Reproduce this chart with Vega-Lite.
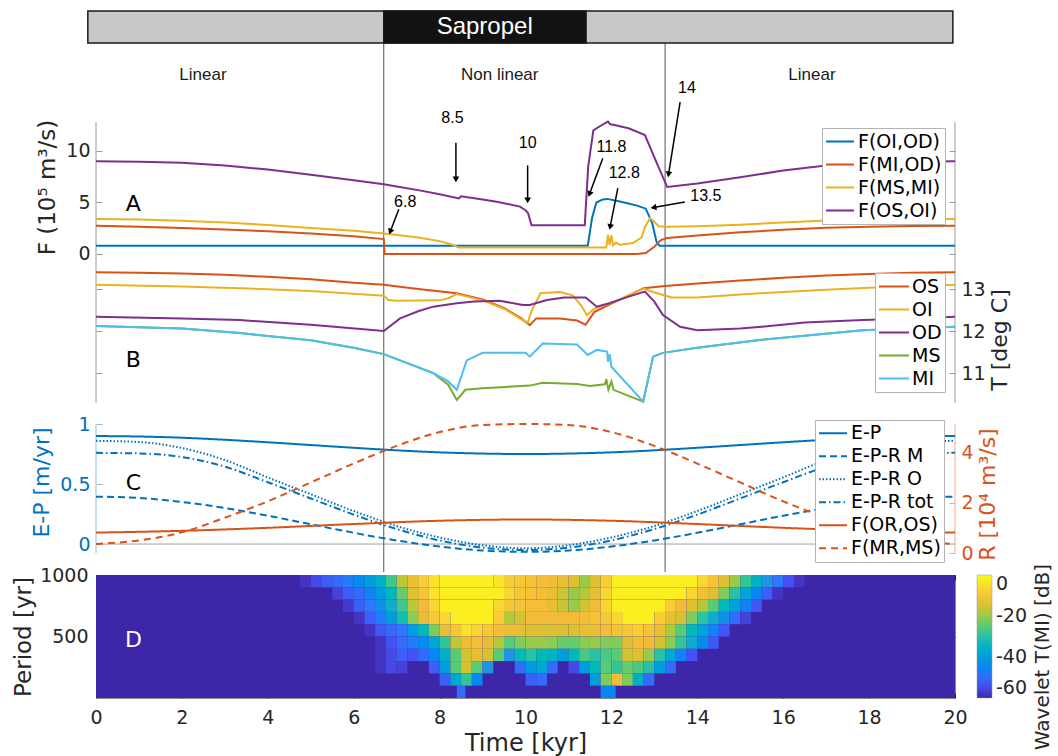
{
"$schema":"https://vega.github.io/schema/vega-lite/v6.json",
"background":"white",
"padding":{"left":12,"top":10,"right":2,"bottom":2},
"spacing":0,
"bounds":"flush",
"config":{
 "view":{"stroke":null},
 "axis":{"grid":false,"labelFlush":false,"labelFont":"DejaVu Sans","titleFont":"DejaVu Sans","labelFontSize":19,"titleFontSize":23,"labelColor":"#262626","titleColor":"#262626","titleFontWeight":"normal","tickColor":"#9a9a9a","domainColor":"#9a9a9a","tickWidth":1},
 "legend":{"labelFont":"DejaVu Sans","titleFont":"DejaVu Sans"}
},
"datasets":{
 "bounds":[{"t":6.7},{"t":13.25}],
 "bar":[{"seg":"all","start":-0.19,"end":19.95},{"seg":"Sapropel","start":6.7,"end":11.41}],
 "regimes":[{"label":"Linear","t":2.49},{"label":"Non linear","t":9.4},{"label":"Linear","t":16.67}],
 "notes":[{"label":"6.8","t":7.2,"v":5.0},{"label":"8.5","t":8.3,"v":13.2},{"label":"10","t":10.05,"v":10.8},{"label":"11.8","t":12.0,"v":10.4},{"label":"12.8","t":12.3,"v":7.9},{"label":"13.5","t":14.2,"v":5.6},{"label":"14","t":13.76,"v":16.1}],
 "arrows":[{"t1":7.05,"v1":4.35,"t2":6.85,"v2":2.17,"ang":201},{"t1":8.38,"v1":10.8,"t2":8.38,"v2":7.25,"ang":180},{"t1":10.05,"v1":8.6,"t2":10.05,"v2":5.2,"ang":180},{"t1":11.8,"v1":9.3,"t2":11.49,"v2":5.82,"ang":200},{"t1":12.15,"v1":6.4,"t2":11.97,"v2":2.63,"ang":191},{"t1":13.71,"v1":5.05,"t2":12.98,"v2":4.51,"ang":260},{"t1":13.6,"v1":14.75,"t2":13.33,"v2":7.74,"ang":189}],
 "fluxA":[
  {"s":"F(OI,OD)","t":0,"v":0.8},{"s":"F(OI,OD)","t":11.45,"v":0.8},{"s":"F(OI,OD)","t":11.55,"v":3.5},{"s":"F(OI,OD)","t":11.65,"v":5.0},{"s":"F(OI,OD)","t":11.8,"v":5.3},{"s":"F(OI,OD)","t":11.9,"v":5.35},{"s":"F(OI,OD)","t":12.2,"v":5.1},{"s":"F(OI,OD)","t":12.6,"v":4.7},{"s":"F(OI,OD)","t":12.8,"v":4.4},{"s":"F(OI,OD)","t":12.95,"v":3.0},{"s":"F(OI,OD)","t":13.05,"v":1.2},{"s":"F(OI,OD)","t":13.12,"v":0.8},{"s":"F(OI,OD)","t":20,"v":0.8},
  {"s":"F(MI,OD)","t":0,"v":2.75},{"s":"F(MI,OD)","t":1,"v":2.65},{"s":"F(MI,OD)","t":2,"v":2.53},{"s":"F(MI,OD)","t":3,"v":2.38},{"s":"F(MI,OD)","t":4,"v":2.2},{"s":"F(MI,OD)","t":5,"v":2.0},{"s":"F(MI,OD)","t":6,"v":1.72},{"s":"F(MI,OD)","t":6.7,"v":1.45},{"s":"F(MI,OD)","t":6.72,"v":0},{"s":"F(MI,OD)","t":12.6,"v":0},{"s":"F(MI,OD)","t":12.8,"v":0.1},{"s":"F(MI,OD)","t":13.0,"v":0.7},{"s":"F(MI,OD)","t":13.15,"v":1.35},{"s":"F(MI,OD)","t":13.3,"v":1.55},{"s":"F(MI,OD)","t":14,"v":1.8},{"s":"F(MI,OD)","t":15,"v":2.1},{"s":"F(MI,OD)","t":16,"v":2.35},{"s":"F(MI,OD)","t":17,"v":2.55},{"s":"F(MI,OD)","t":18,"v":2.65},{"s":"F(MI,OD)","t":19,"v":2.72},{"s":"F(MI,OD)","t":20,"v":2.75},
  {"s":"F(MS,MI)","t":0,"v":3.4},{"s":"F(MS,MI)","t":1,"v":3.35},{"s":"F(MS,MI)","t":2,"v":3.22},{"s":"F(MS,MI)","t":3,"v":3.05},{"s":"F(MS,MI)","t":4,"v":2.82},{"s":"F(MS,MI)","t":5,"v":2.52},{"s":"F(MS,MI)","t":6,"v":2.25},{"s":"F(MS,MI)","t":6.7,"v":2.0},{"s":"F(MS,MI)","t":7.5,"v":1.6},{"s":"F(MS,MI)","t":8.0,"v":1.25},{"s":"F(MS,MI)","t":8.3,"v":0.9},{"s":"F(MS,MI)","t":8.45,"v":0.62},{"s":"F(MS,MI)","t":11.88,"v":0.62},{"s":"F(MS,MI)","t":11.92,"v":1.85},{"s":"F(MS,MI)","t":11.96,"v":0.9},{"s":"F(MS,MI)","t":12.0,"v":1.8},{"s":"F(MS,MI)","t":12.04,"v":0.85},{"s":"F(MS,MI)","t":12.1,"v":1.1},{"s":"F(MS,MI)","t":12.2,"v":0.9},{"s":"F(MS,MI)","t":12.5,"v":1.07},{"s":"F(MS,MI)","t":12.7,"v":1.6},{"s":"F(MS,MI)","t":12.78,"v":2.6},{"s":"F(MS,MI)","t":12.9,"v":3.5},{"s":"F(MS,MI)","t":13.0,"v":3.1},{"s":"F(MS,MI)","t":13.1,"v":2.7},{"s":"F(MS,MI)","t":13.3,"v":2.65},{"s":"F(MS,MI)","t":14,"v":2.7},{"s":"F(MS,MI)","t":15,"v":2.85},{"s":"F(MS,MI)","t":16,"v":3.05},{"s":"F(MS,MI)","t":17,"v":3.25},{"s":"F(MS,MI)","t":18,"v":3.32},{"s":"F(MS,MI)","t":19,"v":3.37},{"s":"F(MS,MI)","t":20,"v":3.4},
  {"s":"F(OS,OI)","t":0,"v":9.0},{"s":"F(OS,OI)","t":1,"v":8.95},{"s":"F(OS,OI)","t":2,"v":8.85},{"s":"F(OS,OI)","t":3,"v":8.6},{"s":"F(OS,OI)","t":4,"v":8.2},{"s":"F(OS,OI)","t":5,"v":7.7},{"s":"F(OS,OI)","t":6,"v":7.15},{"s":"F(OS,OI)","t":6.7,"v":6.77},{"s":"F(OS,OI)","t":7,"v":6.55},{"s":"F(OS,OI)","t":7.5,"v":6.2},{"s":"F(OS,OI)","t":8,"v":5.8},{"s":"F(OS,OI)","t":8.45,"v":5.4},{"s":"F(OS,OI)","t":8.5,"v":5.6},{"s":"F(OS,OI)","t":9,"v":5.3},{"s":"F(OS,OI)","t":9.33,"v":5.08},{"s":"F(OS,OI)","t":9.87,"v":4.6},{"s":"F(OS,OI)","t":10.0,"v":4.25},{"s":"F(OS,OI)","t":10.06,"v":3.97},{"s":"F(OS,OI)","t":10.14,"v":2.8},{"s":"F(OS,OI)","t":11.38,"v":2.8},{"s":"F(OS,OI)","t":11.46,"v":8.5},{"s":"F(OS,OI)","t":11.58,"v":12.0},{"s":"F(OS,OI)","t":11.75,"v":12.45},{"s":"F(OS,OI)","t":11.92,"v":12.85},{"s":"F(OS,OI)","t":11.97,"v":12.6},{"s":"F(OS,OI)","t":12.04,"v":12.55},{"s":"F(OS,OI)","t":12.4,"v":12.2},{"s":"F(OS,OI)","t":12.78,"v":11.55},{"s":"F(OS,OI)","t":13.06,"v":8.8},{"s":"F(OS,OI)","t":13.3,"v":6.5},{"s":"F(OS,OI)","t":14,"v":6.85},{"s":"F(OS,OI)","t":15,"v":7.45},{"s":"F(OS,OI)","t":16,"v":8.1},{"s":"F(OS,OI)","t":17,"v":8.6},{"s":"F(OS,OI)","t":18,"v":8.85},{"s":"F(OS,OI)","t":19,"v":8.95},{"s":"F(OS,OI)","t":20,"v":9.0}
 ],
 "tempB":[
  {"s":"OS","t":0,"v":13.4},{"s":"OS","t":1,"v":13.39},{"s":"OS","t":2,"v":13.37},{"s":"OS","t":3,"v":13.34},{"s":"OS","t":4,"v":13.29},{"s":"OS","t":5,"v":13.23},{"s":"OS","t":6,"v":13.15},{"s":"OS","t":6.7,"v":13.1},{"s":"OS","t":7.5,"v":13.0},{"s":"OS","t":8.4,"v":12.9},{"s":"OS","t":9.0,"v":12.75},{"s":"OS","t":9.5,"v":12.55},{"s":"OS","t":9.9,"v":12.3},{"s":"OS","t":10.1,"v":12.14},{"s":"OS","t":10.25,"v":12.3},{"s":"OS","t":10.8,"v":12.3},{"s":"OS","t":11.2,"v":12.25},{"s":"OS","t":11.4,"v":12.15},{"s":"OS","t":11.6,"v":12.45},{"s":"OS","t":12.0,"v":12.65},{"s":"OS","t":12.4,"v":12.85},{"s":"OS","t":12.75,"v":13.02},{"s":"OS","t":13.25,"v":13.07},{"s":"OS","t":14,"v":13.13},{"s":"OS","t":15,"v":13.2},{"s":"OS","t":16,"v":13.27},{"s":"OS","t":17,"v":13.32},{"s":"OS","t":18,"v":13.36},{"s":"OS","t":19,"v":13.39},{"s":"OS","t":20,"v":13.4},
  {"s":"OI","t":0,"v":13.1},{"s":"OI","t":2,"v":13.06},{"s":"OI","t":3.35,"v":13.02},{"s":"OI","t":5,"v":12.95},{"s":"OI","t":6.7,"v":12.84},{"s":"OI","t":6.8,"v":12.74},{"s":"OI","t":7.0,"v":12.72},{"s":"OI","t":8.0,"v":12.73},{"s":"OI","t":8.2,"v":12.78},{"s":"OI","t":8.4,"v":12.88},{"s":"OI","t":9.0,"v":12.73},{"s":"OI","t":9.5,"v":12.53},{"s":"OI","t":9.9,"v":12.28},{"s":"OI","t":10.05,"v":12.2},{"s":"OI","t":10.15,"v":12.5},{"s":"OI","t":10.35,"v":12.9},{"s":"OI","t":10.8,"v":12.93},{"s":"OI","t":11.1,"v":12.85},{"s":"OI","t":11.3,"v":12.6},{"s":"OI","t":11.43,"v":12.38},{"s":"OI","t":11.6,"v":12.53},{"s":"OI","t":12.0,"v":12.67},{"s":"OI","t":12.4,"v":12.84},{"s":"OI","t":12.75,"v":13.01},{"s":"OI","t":12.97,"v":12.93},{"s":"OI","t":13.4,"v":12.8},{"s":"OI","t":14,"v":12.8},{"s":"OI","t":15,"v":12.87},{"s":"OI","t":16,"v":12.93},{"s":"OI","t":17,"v":12.98},{"s":"OI","t":18,"v":13.03},{"s":"OI","t":19,"v":13.07},{"s":"OI","t":20,"v":13.1},
  {"s":"OD","t":0,"v":12.34},{"s":"OD","t":2,"v":12.3},{"s":"OD","t":3.35,"v":12.26},{"s":"OD","t":5,"v":12.15},{"s":"OD","t":6.7,"v":12.0},{"s":"OD","t":7.08,"v":12.3},{"s":"OD","t":7.5,"v":12.47},{"s":"OD","t":7.85,"v":12.58},{"s":"OD","t":8.4,"v":12.66},{"s":"OD","t":8.8,"v":12.7},{"s":"OD","t":9.4,"v":12.72},{"s":"OD","t":9.94,"v":12.62},{"s":"OD","t":10.1,"v":12.62},{"s":"OD","t":10.5,"v":12.74},{"s":"OD","t":10.9,"v":12.8},{"s":"OD","t":11.4,"v":12.8},{"s":"OD","t":11.66,"v":12.58},{"s":"OD","t":11.95,"v":12.66},{"s":"OD","t":12.4,"v":12.82},{"s":"OD","t":12.78,"v":12.94},{"s":"OD","t":13.0,"v":12.7},{"s":"OD","t":13.2,"v":12.38},{"s":"OD","t":13.6,"v":12.1},{"s":"OD","t":14,"v":12.02},{"s":"OD","t":15,"v":12.06},{"s":"OD","t":15.5,"v":12.1},{"s":"OD","t":16.5,"v":12.2},{"s":"OD","t":17.85,"v":12.26},{"s":"OD","t":19,"v":12.3},{"s":"OD","t":20,"v":12.34},
  {"s":"MS","t":0,"v":12.12},{"s":"MS","t":2,"v":12.06},{"s":"MS","t":3.35,"v":11.95},{"s":"MS","t":4,"v":11.88},{"s":"MS","t":5,"v":11.78},{"s":"MS","t":6,"v":11.6},{"s":"MS","t":6.7,"v":11.45},{"s":"MS","t":7.85,"v":11.0},{"s":"MS","t":8.2,"v":10.72},{"s":"MS","t":8.4,"v":10.36},{"s":"MS","t":8.6,"v":10.6},{"s":"MS","t":9.0,"v":10.64},{"s":"MS","t":10.1,"v":10.7},{"s":"MS","t":10.4,"v":10.77},{"s":"MS","t":11.2,"v":10.74},{"s":"MS","t":11.5,"v":10.69},{"s":"MS","t":11.85,"v":10.73},{"s":"MS","t":11.88,"v":10.86},{"s":"MS","t":11.93,"v":10.6},{"s":"MS","t":12.0,"v":10.8},{"s":"MS","t":12.05,"v":10.6},{"s":"MS","t":12.74,"v":10.32},{"s":"MS","t":12.97,"v":11.39},{"s":"MS","t":13.2,"v":11.48},{"s":"MS","t":14,"v":11.6},{"s":"MS","t":15.5,"v":11.79},{"s":"MS","t":17.85,"v":12.02},{"s":"MS","t":20,"v":12.1},
  {"s":"MI","t":0,"v":12.12},{"s":"MI","t":2,"v":12.06},{"s":"MI","t":3.35,"v":11.95},{"s":"MI","t":4,"v":11.88},{"s":"MI","t":5,"v":11.78},{"s":"MI","t":6,"v":11.6},{"s":"MI","t":6.7,"v":11.45},{"s":"MI","t":7.85,"v":11.0},{"s":"MI","t":8.2,"v":10.8},{"s":"MI","t":8.4,"v":10.6},{"s":"MI","t":8.5,"v":10.9},{"s":"MI","t":8.63,"v":11.3},{"s":"MI","t":9.0,"v":11.48},{"s":"MI","t":10.0,"v":11.48},{"s":"MI","t":10.1,"v":11.39},{"s":"MI","t":10.4,"v":11.7},{"s":"MI","t":11.2,"v":11.68},{"s":"MI","t":11.45,"v":11.43},{"s":"MI","t":11.66,"v":11.55},{"s":"MI","t":11.9,"v":11.51},{"s":"MI","t":11.92,"v":11.27},{"s":"MI","t":11.96,"v":11.45},{"s":"MI","t":12.0,"v":11.15},{"s":"MI","t":12.74,"v":10.32},{"s":"MI","t":12.97,"v":11.39},{"s":"MI","t":13.2,"v":11.48},{"s":"MI","t":14,"v":11.6},{"s":"MI","t":15.5,"v":11.79},{"s":"MI","t":17.85,"v":12.02},{"s":"MI","t":20,"v":12.1}
 ],
 "epC":[
  {"s":"E-P","t":0,"v":0.9},{"s":"E-P","t":1,"v":0.896},{"s":"E-P","t":2,"v":0.886},{"s":"E-P","t":3,"v":0.869},{"s":"E-P","t":4,"v":0.848},{"s":"E-P","t":5,"v":0.825},{"s":"E-P","t":6,"v":0.802},{"s":"E-P","t":7,"v":0.781},{"s":"E-P","t":8,"v":0.764},{"s":"E-P","t":9,"v":0.754},{"s":"E-P","t":10,"v":0.75},{"s":"E-P","t":11,"v":0.754},{"s":"E-P","t":12,"v":0.764},{"s":"E-P","t":13,"v":0.781},{"s":"E-P","t":14,"v":0.802},{"s":"E-P","t":15,"v":0.825},{"s":"E-P","t":16,"v":0.848},{"s":"E-P","t":17,"v":0.869},{"s":"E-P","t":18,"v":0.886},{"s":"E-P","t":19,"v":0.896},{"s":"E-P","t":20,"v":0.9},
  {"s":"E-P-R M","t":0,"v":0.395},{"s":"E-P-R M","t":1,"v":0.384},{"s":"E-P-R M","t":2,"v":0.351},{"s":"E-P-R M","t":3,"v":0.3},{"s":"E-P-R M","t":4,"v":0.236},{"s":"E-P-R M","t":5,"v":0.165},{"s":"E-P-R M","t":6,"v":0.094},{"s":"E-P-R M","t":7,"v":0.03},{"s":"E-P-R M","t":8,"v":-0.021},{"s":"E-P-R M","t":9,"v":-0.054},{"s":"E-P-R M","t":10,"v":-0.065},{"s":"E-P-R M","t":11,"v":-0.054},{"s":"E-P-R M","t":12,"v":-0.021},{"s":"E-P-R M","t":13,"v":0.03},{"s":"E-P-R M","t":14,"v":0.094},{"s":"E-P-R M","t":15,"v":0.165},{"s":"E-P-R M","t":16,"v":0.236},{"s":"E-P-R M","t":17,"v":0.3},{"s":"E-P-R M","t":18,"v":0.351},{"s":"E-P-R M","t":19,"v":0.384},{"s":"E-P-R M","t":20,"v":0.395},
  {"s":"E-P-R O","t":0,"v":0.86},{"s":"E-P-R O","t":1,"v":0.85},{"s":"E-P-R O","t":2,"v":0.8},{"s":"E-P-R O","t":3,"v":0.7},{"s":"E-P-R O","t":4,"v":0.555},{"s":"E-P-R O","t":5,"v":0.415},{"s":"E-P-R O","t":6,"v":0.275},{"s":"E-P-R O","t":7,"v":0.15},{"s":"E-P-R O","t":8,"v":0.055},{"s":"E-P-R O","t":9,"v":-0.01},{"s":"E-P-R O","t":10,"v":-0.035},{"s":"E-P-R O","t":11,"v":-0.01},{"s":"E-P-R O","t":12,"v":0.055},{"s":"E-P-R O","t":13,"v":0.15},{"s":"E-P-R O","t":14,"v":0.275},{"s":"E-P-R O","t":15,"v":0.415},{"s":"E-P-R O","t":16,"v":0.555},{"s":"E-P-R O","t":17,"v":0.7},{"s":"E-P-R O","t":18,"v":0.8},{"s":"E-P-R O","t":19,"v":0.85},{"s":"E-P-R O","t":20,"v":0.86},
  {"s":"E-P-R tot","t":0,"v":0.76},{"s":"E-P-R tot","t":1,"v":0.755},{"s":"E-P-R tot","t":2,"v":0.725},{"s":"E-P-R tot","t":3,"v":0.645},{"s":"E-P-R tot","t":4,"v":0.515},{"s":"E-P-R tot","t":5,"v":0.38},{"s":"E-P-R tot","t":6,"v":0.245},{"s":"E-P-R tot","t":7,"v":0.125},{"s":"E-P-R tot","t":8,"v":0.03},{"s":"E-P-R tot","t":9,"v":-0.03},{"s":"E-P-R tot","t":10,"v":-0.05},{"s":"E-P-R tot","t":11,"v":-0.03},{"s":"E-P-R tot","t":12,"v":0.03},{"s":"E-P-R tot","t":13,"v":0.125},{"s":"E-P-R tot","t":14,"v":0.245},{"s":"E-P-R tot","t":15,"v":0.38},{"s":"E-P-R tot","t":16,"v":0.515},{"s":"E-P-R tot","t":17,"v":0.645},{"s":"E-P-R tot","t":18,"v":0.725},{"s":"E-P-R tot","t":19,"v":0.755},{"s":"E-P-R tot","t":20,"v":0.76}
 ],
 "rC":[
  {"s":"F(OR,OS)","t":0,"v":0.81},{"s":"F(OR,OS)","t":2,"v":0.88},{"s":"F(OR,OS)","t":4,"v":1.0},{"s":"F(OR,OS)","t":6,"v":1.15},{"s":"F(OR,OS)","t":8,"v":1.28},{"s":"F(OR,OS)","t":10,"v":1.33},{"s":"F(OR,OS)","t":12,"v":1.28},{"s":"F(OR,OS)","t":14,"v":1.15},{"s":"F(OR,OS)","t":16,"v":1.0},{"s":"F(OR,OS)","t":18,"v":0.88},{"s":"F(OR,OS)","t":20,"v":0.81},
  {"s":"F(MR,MS)","t":0,"v":0.36},{"s":"F(MR,MS)","t":1,"v":0.5},{"s":"F(MR,MS)","t":2,"v":0.82},{"s":"F(MR,MS)","t":3,"v":1.4},{"s":"F(MR,MS)","t":4,"v":2.05},{"s":"F(MR,MS)","t":5,"v":2.8},{"s":"F(MR,MS)","t":6,"v":3.55},{"s":"F(MR,MS)","t":7,"v":4.25},{"s":"F(MR,MS)","t":8,"v":4.8},{"s":"F(MR,MS)","t":9,"v":5.08},{"s":"F(MR,MS)","t":10,"v":5.12},{"s":"F(MR,MS)","t":11,"v":5.08},{"s":"F(MR,MS)","t":12,"v":4.8},{"s":"F(MR,MS)","t":13,"v":4.25},{"s":"F(MR,MS)","t":14,"v":3.55},{"s":"F(MR,MS)","t":15,"v":2.8},{"s":"F(MR,MS)","t":16,"v":2.05},{"s":"F(MR,MS)","t":17,"v":1.4},{"s":"F(MR,MS)","t":18,"v":0.82},{"s":"F(MR,MS)","t":19,"v":0.5},{"s":"F(MR,MS)","t":20,"v":0.36}
 ],
 "wave":[
  {"t0":4.75,"t1":5,"p0":900,"p1":1000,"dB":-58},{"t0":5,"t1":5.25,"p0":900,"p1":1000,"dB":-55},{"t0":5.25,"t1":5.5,"p0":900,"p1":1000,"dB":-52},{"t0":5.5,"t1":5.75,"p0":900,"p1":1000,"dB":-50},{"t0":5.75,"t1":6,"p0":900,"p1":1000,"dB":-47},{"t0":6,"t1":6.25,"p0":900,"p1":1000,"dB":-44},{"t0":6.25,"t1":6.5,"p0":900,"p1":1000,"dB":-40},{"t0":6.5,"t1":6.75,"p0":900,"p1":1000,"dB":-35},{"t0":6.75,"t1":7,"p0":900,"p1":1000,"dB":-27},{"t0":7,"t1":7.25,"p0":900,"p1":1000,"dB":-17},{"t0":7.25,"t1":7.5,"p0":900,"p1":1000,"dB":-13},{"t0":7.5,"t1":7.75,"p0":900,"p1":1000,"dB":-8},{"t0":7.75,"t1":8,"p0":900,"p1":1000,"dB":-4},{"t0":8,"t1":9.25,"p0":900,"p1":1000,"dB":-2},{"t0":9.25,"t1":9.5,"p0":900,"p1":1000,"dB":-4},{"t0":9.5,"t1":9.75,"p0":900,"p1":1000,"dB":-8},{"t0":9.75,"t1":10,"p0":900,"p1":1000,"dB":-9},{"t0":10,"t1":10.25,"p0":900,"p1":1000,"dB":-10},{"t0":10.25,"t1":10.5,"p0":900,"p1":1000,"dB":-11},{"t0":10.5,"t1":10.75,"p0":900,"p1":1000,"dB":-12},{"t0":10.75,"t1":11,"p0":900,"p1":1000,"dB":-13},{"t0":11,"t1":11.25,"p0":900,"p1":1000,"dB":-14},{"t0":11.25,"t1":11.5,"p0":900,"p1":1000,"dB":-20},{"t0":11.5,"t1":11.75,"p0":900,"p1":1000,"dB":-14},{"t0":11.75,"t1":12,"p0":900,"p1":1000,"dB":-8},{"t0":12,"t1":14,"p0":900,"p1":1000,"dB":-2},{"t0":14,"t1":14.25,"p0":900,"p1":1000,"dB":-6},{"t0":14.25,"t1":14.5,"p0":900,"p1":1000,"dB":-10},{"t0":14.5,"t1":14.75,"p0":900,"p1":1000,"dB":-14},{"t0":14.75,"t1":15,"p0":900,"p1":1000,"dB":-20},{"t0":15,"t1":15.25,"p0":900,"p1":1000,"dB":-28},{"t0":15.25,"t1":15.5,"p0":900,"p1":1000,"dB":-35},{"t0":15.5,"t1":15.75,"p0":900,"p1":1000,"dB":-42},{"t0":15.75,"t1":16,"p0":900,"p1":1000,"dB":-48},{"t0":16,"t1":16.25,"p0":900,"p1":1000,"dB":-54},{"t0":16.25,"t1":16.5,"p0":900,"p1":1000,"dB":-58},
  {"t0":5.5,"t1":5.75,"p0":800,"p1":900,"dB":-56},{"t0":5.75,"t1":6,"p0":800,"p1":900,"dB":-52},{"t0":6,"t1":6.25,"p0":800,"p1":900,"dB":-50},{"t0":6.25,"t1":6.5,"p0":800,"p1":900,"dB":-46},{"t0":6.5,"t1":6.75,"p0":800,"p1":900,"dB":-40},{"t0":6.75,"t1":7,"p0":800,"p1":900,"dB":-33},{"t0":7,"t1":7.25,"p0":800,"p1":900,"dB":-24},{"t0":7.25,"t1":7.5,"p0":800,"p1":900,"dB":-14},{"t0":7.5,"t1":7.75,"p0":800,"p1":900,"dB":-10},{"t0":7.75,"t1":8,"p0":800,"p1":900,"dB":-4},{"t0":8,"t1":9.5,"p0":800,"p1":900,"dB":-2},{"t0":9.5,"t1":9.75,"p0":800,"p1":900,"dB":-6},{"t0":9.75,"t1":10,"p0":800,"p1":900,"dB":-9},{"t0":10,"t1":10.25,"p0":800,"p1":900,"dB":-10},{"t0":10.25,"t1":10.5,"p0":800,"p1":900,"dB":-11},{"t0":10.5,"t1":10.75,"p0":800,"p1":900,"dB":-13},{"t0":10.75,"t1":11,"p0":800,"p1":900,"dB":-16},{"t0":11,"t1":11.25,"p0":800,"p1":900,"dB":-20},{"t0":11.25,"t1":11.5,"p0":800,"p1":900,"dB":-18},{"t0":11.5,"t1":11.75,"p0":800,"p1":900,"dB":-13},{"t0":11.75,"t1":12,"p0":800,"p1":900,"dB":-6},{"t0":12,"t1":13.75,"p0":800,"p1":900,"dB":-2},{"t0":13.75,"t1":14,"p0":800,"p1":900,"dB":-6},{"t0":14,"t1":14.25,"p0":800,"p1":900,"dB":-11},{"t0":14.25,"t1":14.5,"p0":800,"p1":900,"dB":-14},{"t0":14.5,"t1":14.75,"p0":800,"p1":900,"dB":-22},{"t0":14.75,"t1":15,"p0":800,"p1":900,"dB":-30},{"t0":15,"t1":15.25,"p0":800,"p1":900,"dB":-38},{"t0":15.25,"t1":15.5,"p0":800,"p1":900,"dB":-45},{"t0":15.5,"t1":15.75,"p0":800,"p1":900,"dB":-52},{"t0":15.75,"t1":16,"p0":800,"p1":900,"dB":-58},
  {"t0":5.75,"t1":6,"p0":700,"p1":800,"dB":-57},{"t0":6,"t1":6.25,"p0":700,"p1":800,"dB":-52},{"t0":6.25,"t1":6.5,"p0":700,"p1":800,"dB":-48},{"t0":6.5,"t1":6.75,"p0":700,"p1":800,"dB":-43},{"t0":6.75,"t1":7,"p0":700,"p1":800,"dB":-36},{"t0":7,"t1":7.25,"p0":700,"p1":800,"dB":-27},{"t0":7.25,"t1":7.5,"p0":700,"p1":800,"dB":-17},{"t0":7.5,"t1":7.75,"p0":700,"p1":800,"dB":-12},{"t0":7.75,"t1":8,"p0":700,"p1":800,"dB":-6},{"t0":8,"t1":9.25,"p0":700,"p1":800,"dB":-2},{"t0":9.25,"t1":9.5,"p0":700,"p1":800,"dB":-6},{"t0":9.5,"t1":9.75,"p0":700,"p1":800,"dB":-9},{"t0":9.75,"t1":10,"p0":700,"p1":800,"dB":-10},{"t0":10,"t1":10.5,"p0":700,"p1":800,"dB":-11},{"t0":10.5,"t1":10.75,"p0":700,"p1":800,"dB":-13},{"t0":10.75,"t1":11,"p0":700,"p1":800,"dB":-16},{"t0":11,"t1":11.25,"p0":700,"p1":800,"dB":-20},{"t0":11.25,"t1":11.5,"p0":700,"p1":800,"dB":-15},{"t0":11.5,"t1":11.75,"p0":700,"p1":800,"dB":-12},{"t0":11.75,"t1":12,"p0":700,"p1":800,"dB":-6},{"t0":12,"t1":13.25,"p0":700,"p1":800,"dB":-2},{"t0":13.25,"t1":13.5,"p0":700,"p1":800,"dB":-8},{"t0":13.5,"t1":13.75,"p0":700,"p1":800,"dB":-12},{"t0":13.75,"t1":14,"p0":700,"p1":800,"dB":-14},{"t0":14,"t1":14.25,"p0":700,"p1":800,"dB":-18},{"t0":14.25,"t1":14.5,"p0":700,"p1":800,"dB":-25},{"t0":14.5,"t1":14.75,"p0":700,"p1":800,"dB":-32},{"t0":14.75,"t1":15,"p0":700,"p1":800,"dB":-39},{"t0":15,"t1":15.25,"p0":700,"p1":800,"dB":-46},{"t0":15.25,"t1":15.5,"p0":700,"p1":800,"dB":-53},
  {"t0":6,"t1":6.25,"p0":600,"p1":700,"dB":-58},{"t0":6.25,"t1":6.5,"p0":600,"p1":700,"dB":-52},{"t0":6.5,"t1":6.75,"p0":600,"p1":700,"dB":-47},{"t0":6.75,"t1":7,"p0":600,"p1":700,"dB":-40},{"t0":7,"t1":7.25,"p0":600,"p1":700,"dB":-31},{"t0":7.25,"t1":7.5,"p0":600,"p1":700,"dB":-21},{"t0":7.5,"t1":7.75,"p0":600,"p1":700,"dB":-13},{"t0":7.75,"t1":8,"p0":600,"p1":700,"dB":-9},{"t0":8,"t1":8.25,"p0":600,"p1":700,"dB":-6},{"t0":8.25,"t1":9.25,"p0":600,"p1":700,"dB":-2},{"t0":9.25,"t1":9.5,"p0":600,"p1":700,"dB":-8},{"t0":9.5,"t1":9.75,"p0":600,"p1":700,"dB":-18},{"t0":9.75,"t1":10,"p0":600,"p1":700,"dB":-15},{"t0":10,"t1":11.25,"p0":600,"p1":700,"dB":-12},{"t0":11.25,"t1":11.5,"p0":600,"p1":700,"dB":-11},{"t0":11.5,"t1":11.75,"p0":600,"p1":700,"dB":-10},{"t0":11.75,"t1":12,"p0":600,"p1":700,"dB":-9},{"t0":12,"t1":12.25,"p0":600,"p1":700,"dB":-6},{"t0":12.25,"t1":13,"p0":600,"p1":700,"dB":-2},{"t0":13,"t1":13.25,"p0":600,"p1":700,"dB":-8},{"t0":13.25,"t1":13.5,"p0":600,"p1":700,"dB":-13},{"t0":13.5,"t1":13.75,"p0":600,"p1":700,"dB":-15},{"t0":13.75,"t1":14,"p0":600,"p1":700,"dB":-22},{"t0":14,"t1":14.25,"p0":600,"p1":700,"dB":-29},{"t0":14.25,"t1":14.5,"p0":600,"p1":700,"dB":-36},{"t0":14.5,"t1":14.75,"p0":600,"p1":700,"dB":-43},{"t0":14.75,"t1":15,"p0":600,"p1":700,"dB":-50},{"t0":15,"t1":15.25,"p0":600,"p1":700,"dB":-56},
  {"t0":6.25,"t1":6.5,"p0":500,"p1":600,"dB":-58},{"t0":6.5,"t1":6.75,"p0":500,"p1":600,"dB":-53},{"t0":6.75,"t1":7,"p0":500,"p1":600,"dB":-50},{"t0":7,"t1":7.25,"p0":500,"p1":600,"dB":-48},{"t0":7.25,"t1":7.5,"p0":500,"p1":600,"dB":-40},{"t0":7.5,"t1":7.75,"p0":500,"p1":600,"dB":-32},{"t0":7.75,"t1":8,"p0":500,"p1":600,"dB":-22},{"t0":8,"t1":8.25,"p0":500,"p1":600,"dB":-13},{"t0":8.25,"t1":8.5,"p0":500,"p1":600,"dB":-9},{"t0":8.5,"t1":8.75,"p0":500,"p1":600,"dB":-4},{"t0":8.75,"t1":9,"p0":500,"p1":600,"dB":-6},{"t0":9,"t1":9.25,"p0":500,"p1":600,"dB":-9},{"t0":9.25,"t1":9.5,"p0":500,"p1":600,"dB":-11},{"t0":9.5,"t1":10,"p0":500,"p1":600,"dB":-13},{"t0":10,"t1":11,"p0":500,"p1":600,"dB":-14},{"t0":11,"t1":11.25,"p0":500,"p1":600,"dB":-14},{"t0":11.25,"t1":11.75,"p0":500,"p1":600,"dB":-13},{"t0":11.75,"t1":12,"p0":500,"p1":600,"dB":-11},{"t0":12,"t1":12.25,"p0":500,"p1":600,"dB":-10},{"t0":12.25,"t1":12.5,"p0":500,"p1":600,"dB":-9},{"t0":12.5,"t1":12.75,"p0":500,"p1":600,"dB":-8},{"t0":12.75,"t1":13,"p0":500,"p1":600,"dB":-10},{"t0":13,"t1":13.25,"p0":500,"p1":600,"dB":-13},{"t0":13.25,"t1":13.5,"p0":500,"p1":600,"dB":-18},{"t0":13.5,"t1":13.75,"p0":500,"p1":600,"dB":-25},{"t0":13.75,"t1":14,"p0":500,"p1":600,"dB":-32},{"t0":14,"t1":14.25,"p0":500,"p1":600,"dB":-39},{"t0":14.25,"t1":14.5,"p0":500,"p1":600,"dB":-46},{"t0":14.5,"t1":14.75,"p0":500,"p1":600,"dB":-53},
  {"t0":6.5,"t1":6.75,"p0":400,"p1":500,"dB":-58},{"t0":6.75,"t1":7,"p0":400,"p1":500,"dB":-54},{"t0":7,"t1":7.25,"p0":400,"p1":500,"dB":-50},{"t0":7.25,"t1":7.5,"p0":400,"p1":500,"dB":-47},{"t0":7.5,"t1":7.75,"p0":400,"p1":500,"dB":-44},{"t0":7.75,"t1":8,"p0":400,"p1":500,"dB":-38},{"t0":8,"t1":8.25,"p0":400,"p1":500,"dB":-28},{"t0":8.25,"t1":8.5,"p0":400,"p1":500,"dB":-17},{"t0":8.5,"t1":8.75,"p0":400,"p1":500,"dB":-12},{"t0":8.75,"t1":9,"p0":400,"p1":500,"dB":-11},{"t0":9,"t1":9.25,"p0":400,"p1":500,"dB":-13},{"t0":9.25,"t1":9.5,"p0":400,"p1":500,"dB":-18},{"t0":9.5,"t1":9.75,"p0":400,"p1":500,"dB":-25},{"t0":9.75,"t1":10,"p0":400,"p1":500,"dB":-22},{"t0":10,"t1":10.5,"p0":400,"p1":500,"dB":-20},{"t0":10.5,"t1":10.75,"p0":400,"p1":500,"dB":-21},{"t0":10.75,"t1":11.25,"p0":400,"p1":500,"dB":-24},{"t0":11.25,"t1":11.5,"p0":400,"p1":500,"dB":-21},{"t0":11.5,"t1":11.75,"p0":400,"p1":500,"dB":-20},{"t0":11.75,"t1":12.25,"p0":400,"p1":500,"dB":-22},{"t0":12.25,"t1":12.5,"p0":400,"p1":500,"dB":-14},{"t0":12.5,"t1":12.75,"p0":400,"p1":500,"dB":-11},{"t0":12.75,"t1":13,"p0":400,"p1":500,"dB":-12},{"t0":13,"t1":13.25,"p0":400,"p1":500,"dB":-15},{"t0":13.25,"t1":13.5,"p0":400,"p1":500,"dB":-21},{"t0":13.5,"t1":13.75,"p0":400,"p1":500,"dB":-28},{"t0":13.75,"t1":14,"p0":400,"p1":500,"dB":-36},{"t0":14,"t1":14.25,"p0":400,"p1":500,"dB":-44},{"t0":14.25,"t1":14.5,"p0":400,"p1":500,"dB":-53},
  {"t0":6.5,"t1":6.75,"p0":300,"p1":400,"dB":-58},{"t0":6.75,"t1":7,"p0":300,"p1":400,"dB":-55},{"t0":7,"t1":7.25,"p0":300,"p1":400,"dB":-52},{"t0":7.25,"t1":7.5,"p0":300,"p1":400,"dB":-54},{"t0":7.5,"t1":7.75,"p0":300,"p1":400,"dB":-50},{"t0":7.75,"t1":8,"p0":300,"p1":400,"dB":-45},{"t0":8,"t1":8.25,"p0":300,"p1":400,"dB":-35},{"t0":8.25,"t1":8.5,"p0":300,"p1":400,"dB":-25},{"t0":8.5,"t1":8.75,"p0":300,"p1":400,"dB":-15},{"t0":8.75,"t1":9,"p0":300,"p1":400,"dB":-13},{"t0":9,"t1":9.25,"p0":300,"p1":400,"dB":-15},{"t0":9.25,"t1":9.5,"p0":300,"p1":400,"dB":-25},{"t0":9.5,"t1":9.75,"p0":300,"p1":400,"dB":-42},{"t0":9.75,"t1":10,"p0":300,"p1":400,"dB":-32},{"t0":10,"t1":10.25,"p0":300,"p1":400,"dB":-30},{"t0":10.25,"t1":10.5,"p0":300,"p1":400,"dB":-32},{"t0":10.5,"t1":10.75,"p0":300,"p1":400,"dB":-34},{"t0":10.75,"t1":11,"p0":300,"p1":400,"dB":-40},{"t0":11,"t1":11.25,"p0":300,"p1":400,"dB":-32},{"t0":11.25,"t1":11.5,"p0":300,"p1":400,"dB":-26},{"t0":11.5,"t1":11.75,"p0":300,"p1":400,"dB":-30},{"t0":11.75,"t1":12,"p0":300,"p1":400,"dB":-26},{"t0":12,"t1":12.25,"p0":300,"p1":400,"dB":-25},{"t0":12.25,"t1":12.5,"p0":300,"p1":400,"dB":-15},{"t0":12.5,"t1":12.75,"p0":300,"p1":400,"dB":-14},{"t0":12.75,"t1":13,"p0":300,"p1":400,"dB":-20},{"t0":13,"t1":13.25,"p0":300,"p1":400,"dB":-30},{"t0":13.25,"t1":13.5,"p0":300,"p1":400,"dB":-38},{"t0":13.5,"t1":13.75,"p0":300,"p1":400,"dB":-46},{"t0":13.75,"t1":14,"p0":300,"p1":400,"dB":-54},
  {"t0":6.5,"t1":6.75,"p0":200,"p1":300,"dB":-58},{"t0":6.75,"t1":7,"p0":200,"p1":300,"dB":-55},{"t0":7,"t1":7.25,"p0":200,"p1":300,"dB":-56},{"t0":7.75,"t1":8,"p0":200,"p1":300,"dB":-52},{"t0":8,"t1":8.25,"p0":200,"p1":300,"dB":-40},{"t0":8.25,"t1":8.5,"p0":200,"p1":300,"dB":-25},{"t0":8.5,"t1":8.75,"p0":200,"p1":300,"dB":-15},{"t0":8.75,"t1":9,"p0":200,"p1":300,"dB":-25},{"t0":9,"t1":9.25,"p0":200,"p1":300,"dB":-42},{"t0":9.75,"t1":10,"p0":200,"p1":300,"dB":-50},{"t0":10,"t1":10.25,"p0":200,"p1":300,"dB":-40},{"t0":10.25,"t1":10.5,"p0":200,"p1":300,"dB":-38},{"t0":10.5,"t1":10.75,"p0":200,"p1":300,"dB":-50},{"t0":11,"t1":11.25,"p0":200,"p1":300,"dB":-55},{"t0":11.25,"t1":11.5,"p0":200,"p1":300,"dB":-40},{"t0":11.5,"t1":11.75,"p0":200,"p1":300,"dB":-32},{"t0":11.75,"t1":12,"p0":200,"p1":300,"dB":-25},{"t0":12,"t1":12.25,"p0":200,"p1":300,"dB":-28},{"t0":12.25,"t1":12.5,"p0":200,"p1":300,"dB":-24},{"t0":12.5,"t1":12.75,"p0":200,"p1":300,"dB":-26},{"t0":12.75,"t1":13,"p0":200,"p1":300,"dB":-30},{"t0":13,"t1":13.25,"p0":200,"p1":300,"dB":-40},{"t0":13.25,"t1":13.5,"p0":200,"p1":300,"dB":-50},
  {"t0":8,"t1":8.25,"p0":100,"p1":200,"dB":-52},{"t0":8.25,"t1":8.5,"p0":100,"p1":200,"dB":-38},{"t0":8.5,"t1":8.75,"p0":100,"p1":200,"dB":-28},{"t0":8.75,"t1":9,"p0":100,"p1":200,"dB":-45},{"t0":10,"t1":10.25,"p0":100,"p1":200,"dB":-52},{"t0":10.25,"t1":10.5,"p0":100,"p1":200,"dB":-50},{"t0":11.5,"t1":11.75,"p0":100,"p1":200,"dB":-40},{"t0":11.75,"t1":12,"p0":100,"p1":200,"dB":-22},{"t0":12,"t1":12.25,"p0":100,"p1":200,"dB":-12},{"t0":12.25,"t1":12.5,"p0":100,"p1":200,"dB":-22},{"t0":12.5,"t1":12.75,"p0":100,"p1":200,"dB":-35},{"t0":12.75,"t1":13,"p0":100,"p1":200,"dB":-50},
  {"t0":8.4,"t1":8.6,"p0":0,"p1":100,"dB":-50},{"t0":11.75,"t1":12.1,"p0":0,"p1":100,"dB":-45}
 ]
},
"resolve":{"scale":{"color":"independent","strokeDash":"independent","fill":"independent"},"legend":{"color":"independent","strokeDash":"independent","fill":"independent"}},
"vconcat":[
 {
  "width":859,"height":255,
  "resolve":{"axis":{"y":"independent"}},
  "layer":[
   {"data":{"values":[{"t":0},{"t":20}]},
    "mark":{"type":"rule","color":"#9a9a9a","strokeWidth":1},
    "encoding":{
     "x":{"field":"t","type":"quantitative","scale":{"domain":[0,20],"nice":false,"zero":false},"axis":null},
     "y":{"datum":12.8,"type":"quantitative","scale":{"domain":[-1.165,23.59],"nice":false,"zero":false},"axis":{"orient":"left","values":[0,5,10],"format":"d","title":"F (10⁵ m³/s)","titleY":176,"titlePadding":6,"domain":false,"tickSize":-6,"labelPadding":12}},
     "y2":{"datum":-1.165}}},
   {"data":{"name":"bounds"},
    "mark":{"type":"rule","color":"#555555","strokeWidth":1},
    "encoding":{
     "x":{"field":"t","type":"quantitative","scale":{"domain":[0,20],"nice":false,"zero":false},"axis":null},
     "y":{"datum":20.49,"type":"quantitative","scale":{"domain":[-1.165,23.59],"nice":false,"zero":false},"axis":{"orient":"right","values":[0,5,10],"labels":false,"title":null,"domain":false,"tickSize":-6}},
     "y2":{"datum":-1.165}}},
   {"data":{"name":"bar"},
    "mark":{"type":"rect","stroke":"#1a1a1a","strokeWidth":1.5},
    "encoding":{
     "x":{"field":"start","type":"quantitative","scale":{"domain":[0,20],"nice":false,"zero":false},"axis":null},
     "x2":{"field":"end"},
     "y":{"datum":20.49,"type":"quantitative","scale":{"domain":[-1.165,23.59],"nice":false,"zero":false},"axis":null},
     "y2":{"datum":23.59},
     "fill":{"field":"seg","type":"nominal","scale":{"domain":["all","Sapropel"],"range":["#c8c8c8","#121212"]},"legend":null}}},
   {"data":{"values":[{"label":"Sapropel","t":9.05}]},
    "mark":{"type":"text","font":"Liberation Sans","fontSize":24,"color":"white","align":"center","baseline":"middle"},
    "encoding":{
     "x":{"field":"t","type":"quantitative","scale":{"domain":[0,20],"nice":false,"zero":false},"axis":null},
     "y":{"datum":22.04,"type":"quantitative","scale":{"domain":[-1.165,23.59],"nice":false,"zero":false},"axis":null},
     "text":{"field":"label"}}},
   {"data":{"name":"regimes"},
    "mark":{"type":"text","font":"Liberation Sans","fontSize":17,"color":"#1a1a1a","align":"center","baseline":"middle"},
    "encoding":{
     "x":{"field":"t","type":"quantitative","scale":{"domain":[0,20],"nice":false,"zero":false},"axis":null},
     "y":{"datum":17.38,"type":"quantitative","scale":{"domain":[-1.165,23.59],"nice":false,"zero":false},"axis":null},
     "text":{"field":"label"}}},
   {"data":{"name":"fluxA"},
    "mark":{"type":"line","strokeWidth":2},
    "encoding":{
     "x":{"field":"t","type":"quantitative","scale":{"domain":[0,20],"nice":false,"zero":false},"axis":null},
     "y":{"field":"v","type":"quantitative","scale":{"domain":[-1.165,23.59],"nice":false,"zero":false},"axis":null},
     "color":{"field":"s","type":"nominal","scale":{"domain":["F(OI,OD)","F(MI,OD)","F(MS,MI)","F(OS,OI)"],"range":["#0072BD","#D95319","#EDB120","#7E2F8E"]},
      "legend":{"orient":"none","legendX":726,"legendY":117,"direction":"vertical","title":null,"symbolType":"stroke","symbolSize":784,"symbolStrokeWidth":2,"labelFontSize":19,"labelColor":"#000000","fillColor":"white","strokeColor":"#b4b4b4","padding":3,"clipHeight":21,"rowPadding":2,"labelOffset":3}}}},
   {"data":{"name":"notes"},
    "mark":{"type":"text","font":"Liberation Sans","fontSize":16,"color":"#000000","align":"center","baseline":"middle"},
    "encoding":{
     "x":{"field":"t","type":"quantitative","scale":{"domain":[0,20],"nice":false,"zero":false},"axis":null},
     "y":{"field":"v","type":"quantitative","scale":{"domain":[-1.165,23.59],"nice":false,"zero":false},"axis":null},
     "text":{"field":"label"}}},
   {"data":{"name":"arrows"},
    "mark":{"type":"rule","color":"#000000","strokeWidth":1.5},
    "encoding":{
     "x":{"field":"t1","type":"quantitative","scale":{"domain":[0,20],"nice":false,"zero":false},"axis":null},
     "y":{"field":"v1","type":"quantitative","scale":{"domain":[-1.165,23.59],"nice":false,"zero":false},"axis":null},
     "x2":{"field":"t2"},
     "y2":{"field":"v2"}}},
   {"data":{"name":"arrows"},
    "mark":{"type":"point","shape":"triangle-up","filled":true,"size":45,"color":"#000000","opacity":1},
    "encoding":{
     "x":{"field":"t2","type":"quantitative","scale":{"domain":[0,20],"nice":false,"zero":false},"axis":null},
     "y":{"field":"v2","type":"quantitative","scale":{"domain":[-1.165,23.59],"nice":false,"zero":false},"axis":null},
     "angle":{"field":"ang","type":"quantitative","scale":null}}},
   {"data":{"values":[{"label":"A","t":0.87,"v":4.85}]},
    "mark":{"type":"text","font":"DejaVu Sans","fontSize":22,"color":"#000000","align":"center","baseline":"middle"},
    "encoding":{
     "x":{"field":"t","type":"quantitative","scale":{"domain":[0,20],"nice":false,"zero":false},"axis":null},
     "y":{"field":"v","type":"quantitative","scale":{"domain":[-1.165,23.59],"nice":false,"zero":false},"axis":null},
     "text":{"field":"label"}}}
  ]
 },
 {
  "width":859,"height":147,
  "resolve":{"axis":{"y":"independent"}},
  "layer":[
   {"data":{"values":[{"t":0},{"t":20}]},
    "mark":{"type":"rule","color":"#9a9a9a","strokeWidth":1},
    "encoding":{
     "x":{"field":"t","type":"quantitative","scale":{"domain":[0,20],"nice":false,"zero":false},"axis":null},
     "y":{"datum":13.548,"type":"quantitative","scale":{"domain":[10.048,13.548],"nice":false,"zero":false},"axis":{"orient":"left","values":[11,12,13],"labels":false,"title":null,"domain":false,"tickSize":-6}},
     "y2":{"datum":10.286}}},
   {"data":{"name":"bounds"},
    "mark":{"type":"rule","color":"#555555","strokeWidth":1},
    "encoding":{
     "x":{"field":"t","type":"quantitative","scale":{"domain":[0,20],"nice":false,"zero":false},"axis":null},
     "y":{"datum":13.548,"type":"quantitative","scale":{"domain":[10.048,13.548],"nice":false,"zero":false},"axis":{"orient":"right","values":[11,12,13],"format":"d","title":"T [deg C]","titleFontSize":22,"titleAngle":270,"titleBaseline":"top","titlePadding":4,"domain":false,"tickSize":-6,"labelPadding":12}},
     "y2":{"datum":10.048}}},
   {"data":{"name":"tempB"},
    "mark":{"type":"line","strokeWidth":2},
    "encoding":{
     "x":{"field":"t","type":"quantitative","scale":{"domain":[0,20],"nice":false,"zero":false},"axis":null},
     "y":{"field":"v","type":"quantitative","scale":{"domain":[10.048,13.548],"nice":false,"zero":false},"axis":null},
     "color":{"field":"s","type":"nominal","scale":{"domain":["OS","OI","OD","MS","MI"],"range":["#D95319","#EDB120","#7E2F8E","#77AC30","#4DBEEE"]},
      "legend":{"orient":"none","legendX":779,"legendY":7,"direction":"vertical","title":null,"symbolType":"stroke","symbolSize":900,"symbolStrokeWidth":2,"labelFontSize":19,"labelColor":"#000000","fillColor":"white","strokeColor":"#b4b4b4","padding":3,"clipHeight":21,"rowPadding":2,"labelOffset":2}}}},
   {"data":{"values":[{"label":"B","t":0.87,"v":11.31}]},
    "mark":{"type":"text","font":"DejaVu Sans","fontSize":22,"color":"#000000","align":"center","baseline":"middle"},
    "encoding":{
     "x":{"field":"t","type":"quantitative","scale":{"domain":[0,20],"nice":false,"zero":false},"axis":null},
     "y":{"field":"v","type":"quantitative","scale":{"domain":[10.048,13.548],"nice":false,"zero":false},"axis":null},
     "text":{"field":"label"}}}
  ]
 },
 {
  "width":859,"height":162,
  "resolve":{"scale":{"y":"independent"},"axis":{"y":"independent"}},
  "layer":[
   {"data":{"values":[{"t":0}]},
    "mark":{"type":"rule","color":"#8fbfe3","strokeWidth":1},
    "encoding":{
     "x":{"field":"t","type":"quantitative","scale":{"domain":[0,20],"nice":false,"zero":false},"axis":null},
     "y":{"datum":1.0,"type":"quantitative","scale":{"domain":[-0.258,1.092],"nice":false,"zero":false},"axis":{"orient":"left","values":[0,0.5,1],"format":"~g","title":"E-P [m/yr]","titleColor":"#0072BD","labelColor":"#0072BD","tickColor":"#8fbfe3","titleY":69,"titleFontSize":22,"titlePadding":6,"domain":false,"tickSize":-6,"labelPadding":12}},
     "y2":{"datum":-0.075}}},
   {"data":{"values":[{"t":20}]},
    "mark":{"type":"rule","color":"#f0ab8c","strokeWidth":1},
    "encoding":{
     "x":{"field":"t","type":"quantitative","scale":{"domain":[0,20],"nice":false,"zero":false},"axis":null},
     "y":{"datum":5.12,"type":"quantitative","scale":{"domain":[-0.873,5.556],"nice":false,"zero":false},"axis":{"orient":"right","values":[0,2,4],"format":"d","title":"R [10⁴ m³/s]","titleColor":"#D95319","labelColor":"#D95319","tickColor":"#f0ab8c","titleFontSize":22,"titleAngle":270,"titleBaseline":"top","titlePadding":4,"domain":false,"tickSize":-6,"labelPadding":12}},
     "y2":{"datum":0}}},
   {"data":{"values":[{"level":0}]},
    "mark":{"type":"rule","color":"#a0a0a0","strokeWidth":1},
    "encoding":{
     "y":{"field":"level","type":"quantitative","scale":{"domain":[-0.258,1.092],"nice":false,"zero":false},"axis":null}}},
   {"data":{"name":"bounds"},
    "mark":{"type":"rule","color":"#555555","strokeWidth":1},
    "encoding":{
     "x":{"field":"t","type":"quantitative","scale":{"domain":[0,20],"nice":false,"zero":false},"axis":null},
     "y":{"datum":1.092,"type":"quantitative","scale":{"domain":[-0.258,1.092],"nice":false,"zero":false},"axis":null},
     "y2":{"datum":-0.233}}},
   {"data":{"name":"epC"},
    "mark":{"type":"line","strokeWidth":2,"interpolate":"monotone"},
    "encoding":{
     "x":{"field":"t","type":"quantitative","scale":{"domain":[0,20],"nice":false,"zero":false},"axis":null},
     "y":{"field":"v","type":"quantitative","scale":{"domain":[-0.258,1.092],"nice":false,"zero":false},"axis":null},
     "color":{"field":"s","type":"nominal","scale":{"domain":["E-P","E-P-R M","E-P-R O","E-P-R tot","F(OR,OS)","F(MR,MS)"],"range":["#0072BD","#0072BD","#0072BD","#0072BD","#D95319","#D95319"]},
      "legend":{"orient":"none","legendX":719,"legendY":7,"direction":"vertical","title":null,"symbolType":"stroke","symbolSize":784,"symbolStrokeWidth":2,"labelFontSize":19,"labelColor":"#000000","fillColor":"white","strokeColor":"#b4b4b4","padding":3,"clipHeight":20.5,"rowPadding":2,"labelOffset":3}},
     "strokeDash":{"field":"s","type":"nominal","scale":{"domain":["E-P","E-P-R M","E-P-R O","E-P-R tot","F(OR,OS)","F(MR,MS)"],"range":[[1,0],[7,4],[1.5,2],[7,3,1.5,3],[1,0],[7,5]]},
      "legend":{"orient":"none","legendX":719,"legendY":7,"direction":"vertical","title":null,"symbolType":"stroke","symbolSize":784,"symbolStrokeWidth":2,"labelFontSize":19,"labelColor":"#000000","fillColor":"white","strokeColor":"#b4b4b4","padding":3,"clipHeight":20.5,"rowPadding":2,"labelOffset":3}}}},
   {"data":{"name":"rC"},
    "mark":{"type":"line","strokeWidth":2,"interpolate":"monotone"},
    "encoding":{
     "x":{"field":"t","type":"quantitative","scale":{"domain":[0,20],"nice":false,"zero":false},"axis":null},
     "y":{"field":"v","type":"quantitative","scale":{"domain":[-0.873,5.556],"nice":false,"zero":false},"axis":null},
     "color":{"field":"s","type":"nominal","scale":{"domain":["E-P","E-P-R M","E-P-R O","E-P-R tot","F(OR,OS)","F(MR,MS)"],"range":["#0072BD","#0072BD","#0072BD","#0072BD","#D95319","#D95319"]},
      "legend":{"orient":"none","legendX":719,"legendY":7,"direction":"vertical","title":null,"symbolType":"stroke","symbolSize":784,"symbolStrokeWidth":2,"labelFontSize":19,"labelColor":"#000000","fillColor":"white","strokeColor":"#b4b4b4","padding":3,"clipHeight":20.5,"rowPadding":2,"labelOffset":3}},
     "strokeDash":{"field":"s","type":"nominal","scale":{"domain":["E-P","E-P-R M","E-P-R O","E-P-R tot","F(OR,OS)","F(MR,MS)"],"range":[[1,0],[7,4],[1.5,2],[7,3,1.5,3],[1,0],[7,5]]},
      "legend":{"orient":"none","legendX":719,"legendY":7,"direction":"vertical","title":null,"symbolType":"stroke","symbolSize":784,"symbolStrokeWidth":2,"labelFontSize":19,"labelColor":"#000000","fillColor":"white","strokeColor":"#b4b4b4","padding":3,"clipHeight":20.5,"rowPadding":2,"labelOffset":3}}}},
   {"data":{"values":[{"label":"C","t":0.87,"v":0.51}]},
    "mark":{"type":"text","font":"DejaVu Sans","fontSize":22,"color":"#000000","align":"center","baseline":"middle"},
    "encoding":{
     "x":{"field":"t","type":"quantitative","scale":{"domain":[0,20],"nice":false,"zero":false},"axis":null},
     "y":{"field":"v","type":"quantitative","scale":{"domain":[-0.258,1.092],"nice":false,"zero":false},"axis":null},
     "text":{"field":"label"}}}
  ]
 },
 {
  "width":859,"height":123,
  "view":{"stroke":"#8c8c8c","strokeWidth":1},
  "resolve":{"axis":{"x":"independent","y":"independent"}},
  "layer":[
   {"data":{"values":[{"t0":0,"t1":20,"p0":0,"p1":1000}]},
    "mark":{"type":"rect","color":"#3e26a8"},
    "encoding":{
     "x":{"field":"t0","type":"quantitative","scale":{"domain":[0,20],"nice":false,"zero":false},"axis":{"orient":"bottom","values":[0,2,4,6,8,10,12,14,16,18,20],"format":"d","title":"Time [kyr]","titleFontSize":24,"domain":false,"tickSize":-5,"labelPadding":15,"titlePadding":4,"tickColor":"#262626"}},
     "x2":{"field":"t1"},
     "y":{"field":"p0","type":"quantitative","scale":{"domain":[0,1000],"nice":false,"zero":false},"axis":{"orient":"left","values":[500,1000],"format":"d","title":"Period [yr]","domain":false,"tickSize":-5,"labelPadding":13,"titlePadding":4,"tickColor":"#262626"}},
     "y2":{"field":"p1"}}},
   {"data":{"name":"wave"},
    "mark":{"type":"rect"},
    "encoding":{
     "x":{"field":"t0","type":"quantitative","scale":{"domain":[0,20],"nice":false,"zero":false},"axis":null},
     "x2":{"field":"t1"},
     "y":{"field":"p0","type":"quantitative","scale":{"domain":[0,1000],"nice":false,"zero":false},"axis":null},
     "y2":{"field":"p1"},
     "color":{"field":"dB","type":"quantitative","scale":{"type":"linear","domain":[-60,0],"range":["#3e26a8","#4551f4","#3177fb","#2094e2","#0fadca","#29c0a7","#66cc6c","#b3c93a","#f2bb38","#fad634","#f9fb14"]},
      "legend":{"type":"gradient","orient":"none","legendX":881,"legendY":0,"direction":"vertical","gradientLength":123,"gradientThickness":15,"padding":0,"values":[-60,-40,-20,0],"labelExpr":"'' + datum.value","labelFontSize":19,"labelColor":"#262626","labelOffset":4,"title":null,"gradientStrokeColor":"#999999","gradientStrokeWidth":0.5}}}},
   {"data":{"values":[{"label":"D","t":0.87,"v":470}]},
    "mark":{"type":"text","font":"DejaVu Sans","fontSize":22,"color":"#ffffff","align":"center","baseline":"middle"},
    "encoding":{
     "x":{"field":"t","type":"quantitative","scale":{"domain":[0,20],"nice":false,"zero":false},"axis":{"orient":"top","values":[0,2,4,6,8,10,12,14,16,18,20],"labels":false,"title":null,"domain":false,"tickSize":-5,"tickColor":"#262626"}},
     "y":{"field":"v","type":"quantitative","scale":{"domain":[0,1000],"nice":false,"zero":false},"axis":{"orient":"right","values":[500,1000],"labels":false,"title":null,"domain":false,"tickSize":-5,"tickColor":"#262626"}},
     "text":{"field":"label"}}},
   {"data":{"values":[{"label":"Wavelet T(MI) [dB]","t":22.05,"v":333}]},
    "mark":{"type":"text","font":"DejaVu Sans","fontSize":20,"color":"#262626","align":"center","baseline":"middle","angle":270},
    "encoding":{
     "x":{"field":"t","type":"quantitative","scale":{"domain":[0,20],"nice":false,"zero":false},"axis":null},
     "y":{"field":"v","type":"quantitative","scale":{"domain":[0,1000],"nice":false,"zero":false},"axis":null},
     "text":{"field":"label"}}}
  ]
 }
]
}
